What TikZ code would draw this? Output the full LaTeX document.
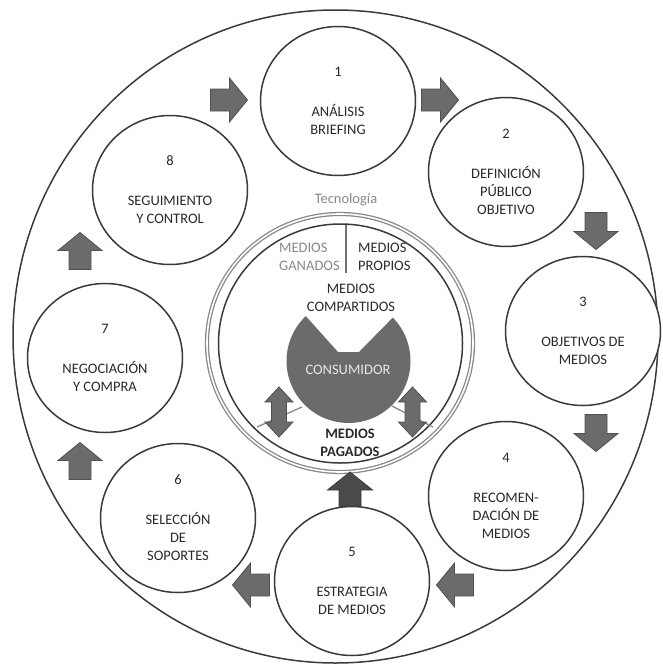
\documentclass[tikz,border=0pt]{standalone}
\usepackage{fontspec}
\setmainfont{Carlito}
\usetikzlibrary{shapes.geometric}
\definecolor{ln}{HTML}{3A3A3A}
\definecolor{txt}{HTML}{2A2A2A}
\definecolor{arr}{HTML}{6B6B6B}
\definecolor{arrdk}{HTML}{4A4A4A}
\definecolor{lgray}{HTML}{888888}
\definecolor{lite}{HTML}{E6E6E6}
\begin{document}
\begin{tikzpicture}[x=1pt,y=-1pt,
  font=\fontsize{14.5}{18}\selectfont, text=txt,
  stage/.style={ellipse, draw=ln, line width=1.5pt, fill=white,
    minimum width=155pt, minimum height=149pt, inner sep=0pt, align=center},
  blk/.style={fill=arr, draw=arr!75!black, line width=0.8pt, line join=miter},
  blockarr/.pic={\draw[blk,pic actions] (-18.5,-11) -- (0.5,-11) -- (0.5,-22) -- (18.5,0)
     -- (0.5,22) -- (0.5,11) -- (-18.5,11) -- cycle;},
  dblarr/.pic={\draw[blk] (0,-25) -- (14,-10) -- (7.5,-10) -- (7.5,10) -- (14,10)
     -- (0,25) -- (-14,10) -- (-7.5,10) -- (-7.5,-10) -- (-14,-10) -- cycle;}
]
\useasboundingbox (0,0) rectangle (662,667);

% big outer ellipse
\node[ellipse, draw=ln, line width=1.5pt, minimum width=645pt, minimum height=653pt,
  inner sep=0pt] (outer) at (335.5,336.5) {};

% technology ring and inner circle
\node[ellipse, draw=lgray, double=white, double distance=1.6pt, line width=1.3pt,
  minimum width=266pt, minimum height=258pt, inner sep=0pt] (ring) at (340,343) {};
\node[ellipse, draw=ln, line width=1.5pt, minimum width=244pt, minimum height=239pt,
  inner sep=0pt] (inner) at (340.5,343.5) {};

\coordinate (vtop) at (346,224.5);
\coordinate (vbot) at (346,273);
\draw[lgray!85!black, line width=1.6pt] (vtop) -- (vbot);

% chords at the bottom
\coordinate (la) at (257,427); \coordinate (lb) at (302,407);
\coordinate (ra) at (392,406); \coordinate (rb) at (433,427);
\draw[lgray, line width=1.3pt] (la) -- (lb);
\draw[lgray, line width=1.3pt] (ra) -- (rb);

% consumer shape
\fill[arr] (392.8,317.6) arc[start angle=-44.4, end angle=226.4, radius=62]
  -- (338,352) -- (359,352) -- cycle;
\node[text=lite] (cons) at (348,370) {CONSUMIDOR};

% double arrows
\pic at (279,412) {dblarr};
\pic at (412.5,412) {dblarr};

% centre labels
\node[text=lgray] (tec) at (346,200) {Tecnología};
\node[text=lgray, anchor=west, align=left, inner sep=0pt] (gan) at (279,257) {MEDIOS\\GANADOS};
\node[anchor=west, align=left, inner sep=0pt] (pro) at (358,257) {MEDIOS\\PROPIOS};
\node[align=center] (comp) at (351,298) {MEDIOS\\COMPARTIDOS};
\node[align=center, font=\fontsize{14.5}{18}\bfseries] (pag) at (350,443) {MEDIOS\\PAGADOS};

% dark arrow from stage 5 to centre
\draw[blk, fill=arrdk, draw=arrdk!80!black] (350,472) -- (372.5,490) -- (361,490) -- (361,512)
  -- (339,512) -- (339,490) -- (327.5,490) -- cycle;

% stages
\node[stage] (s1) at (338,101) {1\\[22pt]ANÁLISIS\\BRIEFING};
\node[stage] (s2) at (506,172) {2\\[22pt]DEFINICIÓN\\PÚBLICO\\OBJETIVO};
\node[stage] (s3) at (583,331) {3\\[22pt]OBJETIVOS DE\\MEDIOS};
\node[stage] (s4) at (506,496) {4\\[22pt]RECOMEN-\\DACIÓN DE\\MEDIOS};
\node[stage] (s5) at (352,581) {5\\[22pt]ESTRATEGIA\\DE MEDIOS};
\node[stage] (s6) at (178,518) {6\\[22pt]SELECCIÓN\\DE\\SOPORTES};
\node[stage] (s7) at (105,358) {7\\[22pt]NEGOCIACIÓN\\Y COMPRA};
\node[stage] (s8) at (170,190) {8\\[22pt]SEGUIMIENTO\\Y CONTROL};

% block arrows between stages
\pic at (229,100) {blockarr};
\pic at (440,100) {blockarr};
\pic[rotate=-90] at (596,231) {blockarr};
\pic[rotate=-90] at (596,433) {blockarr};
\pic[rotate=180] at (455,585) {blockarr};
\pic[rotate=180] at (251,585) {blockarr};
\pic[rotate=90] at (80,461) {blockarr};
\pic[rotate=90] at (80,251) {blockarr};
\end{tikzpicture}
\end{document}
